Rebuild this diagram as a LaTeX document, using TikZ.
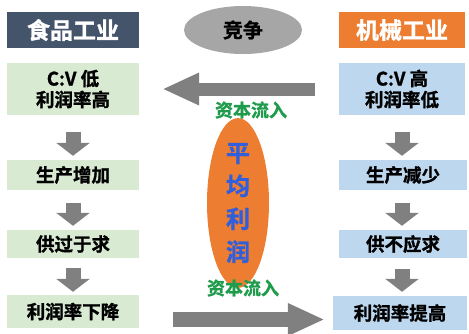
\documentclass[tikz,border=0pt]{standalone}
\usepackage{fontspec}
\setmainfont{Noto Sans CJK SC}[BoldFont={Noto Sans CJK SC Bold},BoldFeatures={FakeBold=1.2}]
\usetikzlibrary{arrows.meta,shapes.geometric}
\definecolor{headblue}{HTML}{44546A}
\definecolor{headorange}{HTML}{ED7D31}
\definecolor{foodgreen}{HTML}{D9EAD3}
\definecolor{machblue}{HTML}{BDD7EE}
\definecolor{arrowgrey}{HTML}{808080}
\definecolor{ovalgrey}{HTML}{A6A6A6}
\definecolor{avgblue}{RGB}{47,95,220}
\definecolor{flowgreen}{RGB}{30,155,75}
\begin{document}
\begin{tikzpicture}[x=1pt,y=-1pt,
  box/.style={inner sep=0pt,align=center,font=\fontsize{18.5}{21}\selectfont\bfseries},
  foodbox/.style={box,fill=foodgreen,minimum width=132pt},
  machbox/.style={box,fill=machblue},
  head/.style={minimum height=36pt,inner sep=0pt,text=white,font=\fontsize{23}{23}\selectfont\bfseries},
  downarrow/.style={draw=arrowgrey,line width=15pt,-{Triangle[width=33pt,length=13pt]}},
  bigarrow/.style={draw=arrowgrey,-{Triangle[width=30pt,length=37pt]}},
  flow/.style={text=flowgreen,inner sep=0pt,font=\fontsize{18}{18}\selectfont\bfseries}]
\useasboundingbox (0,0) rectangle (469,333);
% Headers and the competition oval
\node[head,fill=headblue,minimum width=132pt] (food) at (73,30) {食品工业};
\node[head,fill=headorange,minimum width=126pt] (mach) at (402,30) {机械工业};
\node[ellipse,fill=ovalgrey,minimum width=118pt,minimum height=48pt,inner sep=0pt,
  font=\fontsize{20}{20}\selectfont\bfseries] (compete) at (243,30) {竞争};
% Food industry column
\node[foodbox,minimum height=52pt] (food-1) at (73,89) {C:V 低\\利润率高};
\node[foodbox,minimum height=30pt] (food-2) at (73,175) {生产增加};
\node[foodbox,minimum height=28pt] (food-3) at (73,244) {供过于求};
\node[foodbox,minimum height=33pt] (food-4) at (73,311.5) {利润率下降};
% Machine industry column
\coordinate (mach-axis) at (402,0);
\node[machbox,minimum width=126pt,minimum height=52pt] (mach-1) at (402,89) {C:V 高\\利润率低};
\node[machbox,minimum width=128pt,minimum height=30pt] (mach-2) at (403,175) {生产减少};
\node[machbox,minimum width=128pt,minimum height=28pt] (mach-3) at (403,244) {供不应求};
\node[machbox,minimum width=134pt,minimum height=34pt] (mach-4) at (400,313) {利润率提高};
% Down arrows
\draw[downarrow,shorten <=17pt,shorten >=4pt] (food-1) -- (food-2);
\draw[downarrow,shorten <=13pt,shorten >=4pt] (food-2) -- (food-3);
\draw[downarrow,shorten <=10pt,shorten >=3pt] (food-3) -- (food-4);
\draw[downarrow,shorten <=17pt,shorten >=4pt] (mach-1.south -| mach-axis) -- (mach-2.north -| mach-axis);
\draw[downarrow,shorten <=13pt,shorten >=4pt] (mach-2.south -| mach-axis) -- (mach-3.north -| mach-axis);
\draw[downarrow,shorten <=11pt,shorten >=4pt] (mach-3.south -| mach-axis) -- (mach-4.north -| mach-axis);
% Average profit oval
\node[ellipse,fill=headorange,minimum width=62pt,minimum height=144pt,inner sep=0pt,
  text=avgblue,align=center,font=\fontsize{24}{33}\selectfont\bfseries] (avg) at (238,203) {平\\均\\利\\润};
% Capital flows
\draw[bigarrow,line width=13pt,shorten <=24pt,shorten >=23pt] (mach-1) -- (food-1);
\node[flow] (flow-top) at (251,110) {资本流入};
\draw[bigarrow,line width=15pt,shorten <=34pt,shorten >=8pt]
  ([yshift=-8pt]food-4.east) -- ([yshift=-8pt]food-4.east -| mach-4.west);
\node[flow] (flow-bottom) at (243,288) {资本流入};
\end{tikzpicture}
\end{document}
